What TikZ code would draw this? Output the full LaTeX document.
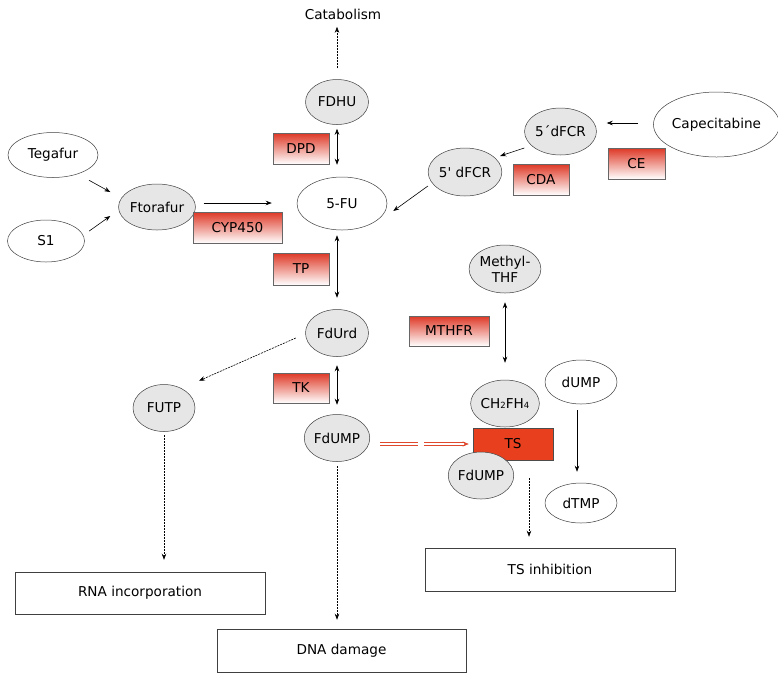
\documentclass[tikz,border=0pt]{standalone}
\usepackage{fontspec}
\newfontfamily\djv{DejaVu Sans}
\usetikzlibrary{shapes.geometric,arrows.meta,calc}
\definecolor{enz}{RGB}{222,56,38}
\definecolor{tsred}{RGB}{232,64,30}
\definecolor{ellg}{RGB}{230,230,230}
\definecolor{redarr}{RGB}{222,72,44}
\begin{document}
\begin{tikzpicture}[x=1pt,y=-1pt,
  every node/.style={font=\djv\fontsize{13.6}{16}\selectfont},
  ell/.style={ellipse,draw=black!75,line width=0.5pt,inner sep=0pt,fill=white},
  gell/.style={ell,fill=ellg},
  wbox/.style={rectangle,draw=black!75,line width=0.5pt,fill=white,inner sep=0pt},
  enzbox/.style={rectangle,draw=black!60,line width=0.5pt,top color=enz,bottom color=white,inner sep=0pt},
  arr/.style={-{Stealth[length=6pt,width=4.5pt]},line width=0.6pt},
  darr/.style={{Stealth[length=6pt,width=4.5pt]}-{Stealth[length=6pt,width=4.5pt]},line width=0.6pt},
  dotarr/.style={arr,dash pattern=on 2pt off 1pt}
]
\useasboundingbox (0,0) rectangle (778,681);

% nodes
\node (cat) at (343,14) {Catabolism};
\node[gell, minimum width=63, minimum height=45] (fdhu) at (337,102) {FDHU};
\node[enzbox, minimum width=56, minimum height=31] (dpd) at (301,148.5) {DPD};
\node[ell, minimum width=90, minimum height=53] (fu) at (342,203.5) {5-FU};
\node[ell, minimum width=90, minimum height=45] (teg) at (53,155) {Tegafur};
\node[ell, minimum width=77, minimum height=42] (s1) at (46,241) {S1};
\node[gell, minimum width=72, minimum height=46] (fto) at (157,207) {Ftorafur};
\node[enzbox, minimum width=89, minimum height=31] (cyp) at (237.5,227.5) {CYP450};
\node[enzbox, minimum width=56, minimum height=32] (tp) at (301,269) {TP};
\node[gell, minimum width=63, minimum height=47] (fdurd) at (337,333) {FdUrd};
\node[enzbox, minimum width=56, minimum height=30] (tk) at (301,388) {TK};
\node[gell, minimum width=63, minimum height=47] (fdumpl) at (337,438) {FdUMP};
\node[gell, minimum width=62, minimum height=47] (futp) at (164,408) {FUTP};
\node[wbox, minimum width=250, minimum height=42] (rna) at (140,593) {RNA incorporation};
\node[wbox, minimum width=249, minimum height=43] (dna) at (341.5,650.5) {DNA damage};
\node[wbox, minimum width=250, minimum height=43] (tsi) at (550,569.5) {TS inhibition};
\node[ell, minimum width=103, minimum height=65] (cape) at (716.5,124.5) {Capecitabine};
\node[gell, minimum width=65, minimum height=47] (dfcr1) at (560.5,131.5) {5´dFCR};
\node[enzbox, minimum width=57, minimum height=31] (ce) at (636.5,163.5) {CE};
\node[gell, minimum width=64, minimum height=48] (dfcr2) at (465,172) {5' dFCR};
\node[enzbox, minimum width=56, minimum height=31] (cda) at (541,179.5) {CDA};
\node[gell, minimum width=65, minimum height=48, align=center,
      font=\djv\fontsize{13.6}{16}\selectfont] (mthf) at (505,269) {Methyl-\\THF};
\node[enzbox, minimum width=80, minimum height=30] (mthfr) at (449,331) {MTHFR};
\node[gell, minimum width=64, minimum height=47] (ch2) at (505,403.5)
  {CH{\fontsize{8.5}{8}\selectfont 2}FH{\fontsize{8.5}{8}\selectfont 4}};
\node[rectangle, draw=black!70, line width=0.5pt, fill=tsred, inner sep=0pt,
      minimum width=80, minimum height=32] (ts) at (513,444) {TS};
\node[gell, minimum width=64, minimum height=47] (fdumpr) at (481,475.5) {FdUMP};
\node[ell, minimum width=72, minimum height=44] (dump) at (581,382) {dUMP};
\node[ell, minimum width=72, minimum height=40] (dtmp) at (581,503) {dTMP};

% connectors
\draw[dotarr, shorten >=4pt] ([yshift=11pt]fdhu.north) -- (cat.south -| fdhu.north);
\draw[darr, shorten <=4pt, shorten >=12pt] (fdhu.south) -- (fdhu.south |- fu.north);
\draw[darr, shorten <=5pt, shorten >=11.5pt] (fdurd.north |- fu.south) -- (fdurd.north);
\draw[darr, shorten <=8.5pt, shorten >=9.5pt] (fdurd.south) -- (fdumpl.north);
\draw[dotarr, shorten <=4.5pt, shorten >=9pt] (fdumpl.south) -- (dna.north -| fdumpl.south);
\draw[dotarr, shorten <=3.5pt, shorten >=12pt] (futp.south) -- (rna.north -| futp.south);
\draw[dotarr] ([xshift=-9.5pt,yshift=-5pt]fdurd.west) -- ([xshift=35pt,yshift=3.5pt]futp.north);
\draw[arr] ([xshift=36pt,yshift=-2.5pt]teg.south) -- ([xshift=-8pt,yshift=15pt]fto.west);
\draw[arr] ([xshift=4.5pt,yshift=10pt]s1.east) -- ([xshift=-8pt,yshift=-9pt]fto.west);
\draw[arr] ([xshift=8pt,yshift=4pt]fto.east) -- ([xshift=-25pt,yshift=0.5pt]fu.west);
\draw[arr] ([xshift=-15pt,yshift=1.5pt]cape.west) -- ([xshift=10pt,yshift=8.5pt]dfcr1.east);
\draw[arr] ([yshift=-16.5pt]dfcr1.west) -- ([xshift=-2pt,yshift=16pt]dfcr2.east);
\draw[arr] ([yshift=-14pt]dfcr2.west) -- ([xshift=6pt,yshift=-7.5pt]fu.east);
\draw[darr, shorten <=9pt, shorten >=17pt] (mthf.south) -- (ch2.north);
\draw[arr, shorten <=6pt, shorten >=11pt] ([xshift=-4pt]dump.south) -- ([xshift=-4pt]dtmp.north);
\draw[dotarr] ([xshift=16pt,yshift=-18pt]ts.south) -- ([xshift=-21pt,yshift=11pt]tsi.north);

% red inhibition arrow
\coordinate (r0) at ([xshift=-93pt]ts.west);
\coordinate (r1) at ([xshift=-55pt]ts.west);
\coordinate (r2) at ([xshift=-49pt]ts.west);
\coordinate (r3) at ([xshift=-4pt]ts.west);
\draw[redarr, line width=0.6pt, double=white, double distance=2pt] (r0) -- (r1);
\draw[redarr, line width=0.6pt, double=white, double distance=2pt,
      -{Stealth[length=6pt,width=5pt]}] (r2) -- (r3);
\end{tikzpicture}
\end{document}
